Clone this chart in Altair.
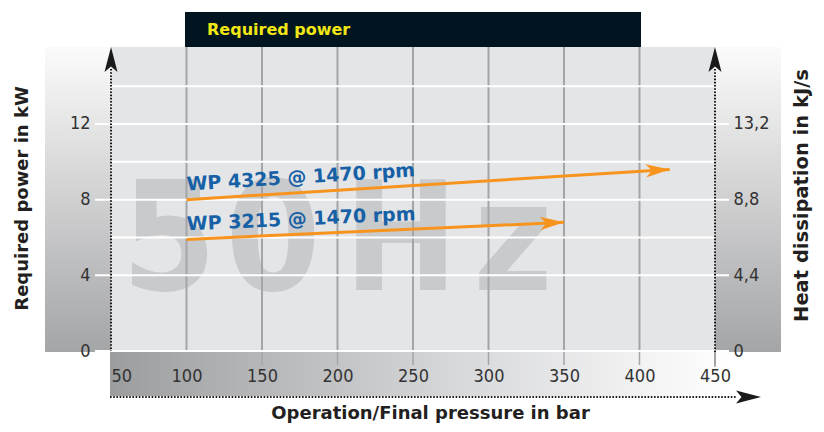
import math
import altair as alt
import pandas as pd

# ---------------- data ----------------
series = ["WP 4325 @ 1470 rpm", "WP 3215 @ 1470 rpm"]
pressure_start = [100, 100]
pressure_end = [420, 350]
power_start = [8.0, 5.9]
power_end = [9.6, 6.8]

x_ticks = [50, 100, 150, 200, 250, 300, 350, 400, 450]
grid_x = [100, 150, 200, 250, 300, 350, 400]
band_ticks = [150, 200, 250, 300, 350, 400, 450]
y_ticks = [0, 4, 8, 12]
y_minor = [6, 10, 14]
heat_labels = ["0", "4,4", "8,8", "13,2"]

X_DOMAIN = [50, 450]
Y_DOMAIN = [0, 16.07]
W, H = 604, 304
KX = W / (X_DOMAIN[1] - X_DOMAIN[0])
KY = H / (Y_DOMAIN[1] - Y_DOMAIN[0])

ORANGE = "#f7941d"
BLUE = "#1660a6"
NARROW = "Liberation Sans Narrow, DejaVu Sans Condensed, sans-serif"
BOLD = "DejaVu Sans, sans-serif"

# ---------------- tables ----------------
line_rows = []
end_rows = []
start_rows = []
for name, x0, x1, y0, y1 in zip(series, pressure_start, pressure_end, power_start, power_end):
    ang = (-math.degrees(math.atan2((y1 - y0) * KY, (x1 - x0) * KX))) % 360
    line_rows.append({"series": name, "p": x0, "kw": y0})
    line_rows.append({"series": name, "p": x1, "kw": y1})
    end_rows.append({"series": name, "p": x1, "kw": y1, "ang": ang})
    start_rows.append({"series": name, "p": x0, "kw": y0, "ang": ang})
lines_df = pd.DataFrame(line_rows)
ends_df = pd.DataFrame(end_rows)
starts_df = pd.DataFrame(start_rows)
one = pd.DataFrame({"a": [0]})

xs = alt.Scale(domain=X_DOMAIN, nice=False, zero=False)
ys = alt.Scale(domain=Y_DOMAIN, nice=False, zero=False)


def vgrad(top, bottom):
    return alt.LinearGradient(
        gradient="linear",
        stops=[alt.GradientStop(color=top, offset=0), alt.GradientStop(color=bottom, offset=1)],
        x1=0, x2=0, y1=0, y2=1,
    )


hgrad = alt.LinearGradient(
    gradient="linear",
    stops=[alt.GradientStop(color="#9c9d9f", offset=0),
           alt.GradientStop(color="#d6d7d9", offset=0.55),
           alt.GradientStop(color="#ffffff", offset=1)],
    x1=0, x2=1, y1=0, y2=0,
)

layers = []
# side boxes
layers.append(alt.Chart(one).mark_rect(color=vgrad("#fbfbfb", "#a4a5a7")).encode(
    x=alt.value(-66), x2=alt.value(0), y=alt.value(0), y2=alt.value(305)))
layers.append(alt.Chart(one).mark_rect(color=vgrad("#fbfbfb", "#a4a5a7")).encode(
    x=alt.value(604), x2=alt.value(670), y=alt.value(0), y2=alt.value(305)))
# centre
layers.append(alt.Chart(one).mark_rect(color="#e4e5e7").encode(
    x=alt.value(0), x2=alt.value(604), y=alt.value(0), y2=alt.value(305)))
# bottom band
layers.append(alt.Chart(one).mark_rect(color=hgrad).encode(
    x=alt.value(-1), x2=alt.value(620), y=alt.value(305), y2=alt.value(349)))
# title bar
layers.append(alt.Chart(one).mark_rect(color="#011520").encode(
    x=alt.value(74), x2=alt.value(530), y=alt.value(-35), y2=alt.value(0)))
layers.append(alt.Chart(one).mark_text(
    text="Required power", font=BOLD, fontWeight="bold", fontSize=16, color="#f2e614",
    align="left", baseline="middle").encode(x=alt.value(96), y=alt.value(-17)))

# watermark
for ch, px in [("5", 58), ("0", 162), ("H", 290), ("z", 402)]:
    layers.append(alt.Chart(one).mark_text(
        text=ch, font=NARROW, fontWeight="bold", fontSize=152, color="#c9cacc",
        align="center", baseline="alphabetic").encode(x=alt.value(px), y=alt.value(243)))

# vertical grid lines
layers.append(alt.Chart(pd.DataFrame({"g": grid_x})).mark_rule(color="#a4a5a7", strokeWidth=2).encode(
    x=alt.X("g:Q", scale=xs, axis=None), y=alt.value(0), y2=alt.value(304)))
layers.append(alt.Chart(pd.DataFrame({"g": band_ticks})).mark_rule(color="#a4a5a7", strokeWidth=1.5).encode(
    x=alt.X("g:Q", scale=xs, axis=None), y=alt.value(305), y2=alt.value(318)))

# horizontal white lines
layers.append(alt.Chart(pd.DataFrame({"v": y_minor})).mark_rule(color="white", strokeWidth=2).encode(
    y=alt.Y("v:Q", scale=ys, axis=None), x=alt.value(0), x2=alt.value(604)))
layers.append(alt.Chart(pd.DataFrame({"v": y_ticks})).mark_rule(color="white", strokeWidth=2).encode(
    y=alt.Y("v:Q", scale=ys, axis=alt.Axis(
        orient="right", values=y_ticks, domain=False, ticks=False, grid=False, zindex=1,
        labelExpr="datum.value == 0 ? '%s' : datum.value == 4 ? '%s' : datum.value == 8 ? '%s' : '%s'" % tuple(heat_labels),
        labelFont=NARROW, labelFontSize=18, labelColor="#333333", labelPadding=18, labelAlign="left",
        title="Heat dissipation in kJ/s", titleFont=BOLD, titleFontSize=19.5, titleFontWeight="bold",
        titleColor="#231f20", titleAngle=270, titleX=86, titleY=148, titleAlign="center",
        titleBaseline="middle")),
    x=alt.value(-16), x2=alt.value(618)))

# dotted axes
dot = dict(color="#1a1a1a", strokeWidth=2, strokeDash=[1.6, 1.6])
layers.append(alt.Chart(one).mark_rule(**dot).encode(x=alt.value(0), y=alt.value(22), y2=alt.value(304)))
layers.append(alt.Chart(one).mark_rule(**dot).encode(x=alt.value(604), y=alt.value(22), y2=alt.value(305)))
layers.append(alt.Chart(one).mark_rule(color="#9a9b9d", strokeWidth=1.5).encode(
    x=alt.value(604), y=alt.value(305), y2=alt.value(320)))
layers.append(alt.Chart(one).mark_rule(**dot).encode(x=alt.value(-1), x2=alt.value(626), y=alt.value(350)))
up_arrow = "M0,0L0.26,1L0,0.78L-0.26,1Z"
right_arrow = "M0,0L-1,-0.26L-0.78,0L-1,0.26Z"
layers.append(alt.Chart(one).mark_point(shape=up_arrow, filled=True, size=2500, color="#1a1a1a", opacity=1).encode(
    x=alt.value(0), y=alt.value(0)))
layers.append(alt.Chart(one).mark_point(shape=up_arrow, filled=True, size=2500, color="#1a1a1a", opacity=1).encode(
    x=alt.value(604), y=alt.value(0)))
layers.append(alt.Chart(one).mark_point(shape=right_arrow, filled=True, size=2500, color="#1a1a1a", opacity=1).encode(
    x=alt.value(650), y=alt.value(350)))

# series
layers.append(alt.Chart(lines_df).mark_line(color=ORANGE, strokeWidth=3).encode(
    x=alt.X("p:Q", scale=xs, axis=alt.Axis(
        values=x_ticks, domain=False, ticks=False, grid=False, zindex=1, labelFont=NARROW, labelFontSize=18,
        labelColor="#333333", labelPadding=16,
        labelAlign={"condition": {"test": "datum.value <= 50", "value": "left"}, "value": "center"},
        title="Operation/Final pressure in bar", titleFont=BOLD, titleFontSize=18, titleFontWeight="bold",
        titleColor="#231f20", titleX=319, titleY=62, titleAlign="center", titleBaseline="middle")),
    y=alt.Y("kw:Q", scale=ys, axis=alt.Axis(
        orient="left", values=y_ticks, domain=False, ticks=False, grid=False, zindex=1, labelFont=NARROW,
        labelFontSize=18, labelColor="#333333", labelPadding=21,
        title="Required power in kW", titleFont=BOLD, titleFontSize=18, titleFontWeight="bold",
        titleColor="#231f20", titleAngle=270, titleX=-89, titleY=151, titleAlign="center",
        titleBaseline="middle")),
    detail="series:N"))
series_arrow = "M0,0L-1,-0.28L-0.74,0L-1,0.28Z"
layers.append(alt.Chart(ends_df).mark_point(shape=series_arrow, filled=True, size=2304, color=ORANGE, opacity=1).encode(
    x=alt.X("p:Q", scale=xs, axis=None), y=alt.Y("kw:Q", scale=ys, axis=None),
    angle=alt.Angle("ang:Q", scale=None)))
layers.append(alt.Chart(starts_df).mark_text(
    font=BOLD, fontWeight="bold", fontSize=19, color=BLUE, align="left", baseline="alphabetic",
    dx=1, dy=-9).encode(
    x=alt.X("p:Q", scale=xs, axis=None), y=alt.Y("kw:Q", scale=ys, axis=None),
    text="series:N", angle=alt.Angle("ang:Q", scale=None)))

chart = alt.layer(*layers).properties(
    width=W, height=H,
    autosize=alt.AutoSizeParams(type="none"),
    padding={"left": 103, "top": 39, "right": 100, "bottom": 73},
    background="white",
).resolve_axis(x="independent", y="independent").configure_view(stroke=None)

chart.save("out.html", embed_options={"renderer": "svg", "actions": False})
